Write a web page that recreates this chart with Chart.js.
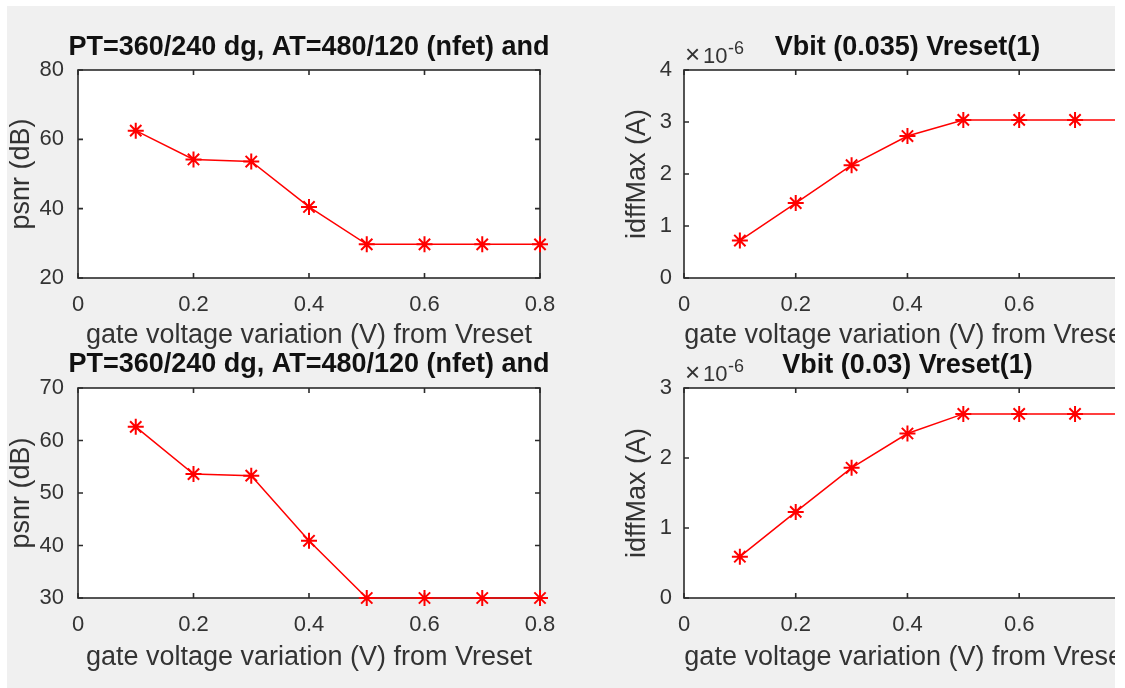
<!DOCTYPE html>
<html>
<head>
<meta charset="utf-8">
<title>psnr / idffMax vs gate voltage variation</title>
<script src="https://cdn.jsdelivr.net/npm/chart.js@4.4.1/dist/chart.umd.min.js"></script>
<style>
  html, body { margin: 0; padding: 0; background: #fff; }
  #fig { position: absolute; left: 0; top: 0; width: 1115px; height: 688px; overflow: hidden; }
  #bg { position: absolute; left: 7px; top: 6px; width: 1108px; height: 682px; background: #f0f0f0; }
  canvas { position: absolute; left: 0; top: 0; }
</style>
</head>
<body>
<div id="fig">
  <div id="bg"></div>
  <canvas id="tl" width="1160" height="688"></canvas>
  <canvas id="tr" width="1160" height="688"></canvas>
  <canvas id="bl" width="1160" height="688"></canvas>
  <canvas id="br" width="1160" height="688"></canvas>
</div>
<script>
// data
const voltage = [0.1, 0.2, 0.3, 0.4, 0.5, 0.6, 0.7, 0.8];
const psnrTop = [62.5, 54.2, 53.6, 40.5, 29.7, 29.7, 29.7, 29.7];
const psnrBottom = [62.6, 53.6, 53.3, 40.9, 30.0, 30.0, 30.0, 30.0];
const idffTop = [0.72e-6, 1.44e-6, 2.17e-6, 2.73e-6, 3.04e-6, 3.04e-6, 3.04e-6, 3.04e-6];
const idffBottom = [0.59e-6, 1.23e-6, 1.86e-6, 2.35e-6, 2.63e-6, 2.63e-6, 2.63e-6, 2.63e-6];

const xTicks = [0, 0.2, 0.4, 0.6, 0.8];
const psnrTopTicks = [20, 40, 60, 80];
const psnrBottomTicks = [30, 40, 50, 60, 70];
const idffTopTicks = [0, 1e-6, 2e-6, 3e-6, 4e-6];
const idffBottomTicks = [0, 1e-6, 2e-6, 3e-6];

const psnrTitle = 'PT=360/240 dg, AT=480/120 (nfet) and';
const xLabel = 'gate voltage variation (V) from Vreset';

const FONT = "'Liberation Sans', Arial, Helvetica, sans-serif";
const INK = '#333333';
const W = 1160, H = 688;
const Y_AXIS_W = 78;
const TICK_SIZE = 22, LABEL_SIZE = 27, TITLE_SIZE = 27;

// matlab look: white axes, full box, inward ticks, bold title, x10^n note
const matlabAxes = {
  id: 'matlabAxes',
  beforeDraw(chart) {
    const { ctx, chartArea: a } = chart;
    ctx.save();
    ctx.fillStyle = '#fff';
    ctx.fillRect(a.left, a.top, a.right - a.left, a.bottom - a.top);
    ctx.restore();
  },
  beforeDatasetsDraw(chart) {
    const { ctx, chartArea: a, scales: { x, y } } = chart;
    ctx.save();
    ctx.strokeStyle = '#2b2b2b';
    ctx.lineWidth = 1.6;
    ctx.beginPath();
    x.ticks.forEach(t => {
      const px = x.getPixelForValue(t.value);
      ctx.moveTo(px, a.bottom); ctx.lineTo(px, a.bottom - 5);
      ctx.moveTo(px, a.top); ctx.lineTo(px, a.top + 5);
    });
    y.ticks.forEach(t => {
      const py = y.getPixelForValue(t.value);
      ctx.moveTo(a.left, py); ctx.lineTo(a.left + 5, py);
      ctx.moveTo(a.right, py); ctx.lineTo(a.right - 5, py);
    });
    ctx.stroke();
    ctx.strokeRect(a.left, a.top, a.right - a.left, a.bottom - a.top);
    ctx.restore();
  },
  afterDraw(chart, args, opts) {
    const { ctx, chartArea: a } = chart;
    ctx.save();
    ctx.fillStyle = '#111';
    ctx.font = `bold ${TITLE_SIZE}px ${FONT}`;
    ctx.textAlign = 'center';
    ctx.textBaseline = 'middle';
    ctx.fillText(opts.title, (a.left + a.right) / 2, opts.titleY);
    if (opts.exponent) {
      ctx.fillStyle = INK;
      ctx.textAlign = 'left';
      ctx.textBaseline = 'alphabetic';
      ctx.font = `26px ${FONT}`;
      ctx.fillText('\u00d7', a.left + 1, a.top - 7);
      ctx.font = `${TICK_SIZE}px ${FONT}`;
      ctx.fillText('10', a.left + 19, a.top - 7);
      ctx.font = `18px ${FONT}`;
      ctx.fillText(opts.exponent, a.left + 44, a.top - 16);
    }
    ctx.restore();
  }
};

function makePanel(p) {
  const half = LABEL_SIZE * 1.2 / 2;
  const xAxisH = p.xLabelY - p.box.b + half;
  const padLeft = p.box.l - Y_AXIS_W;
  const yTicks = p.yTicks;

  return new Chart(document.getElementById(p.id), {
    type: 'line',
    data: {
      datasets: [{
        data: voltage.map((v, i) => ({ x: v, y: p.values[i] })),
        borderColor: '#ff0000',
        backgroundColor: '#ff0000',
        borderWidth: 1.5,
        pointStyle: 'star',
        pointRadius: 8,
        pointBorderWidth: 2,
        pointBorderColor: '#ff0000',
        tension: 0,
        clip: false
      }]
    },
    options: {
      responsive: false,
      animation: false,
      events: [],
      layout: {
        padding: { left: padLeft, right: W - p.box.r, top: p.box.t, bottom: H - p.box.b - xAxisH }
      },
      plugins: {
        legend: { display: false },
        tooltip: { enabled: false },
        matlabAxes: { title: p.title, titleY: p.titleY, exponent: p.exponent }
      },
      scales: {
        x: {
          type: 'linear',
          min: xTicks[0],
          max: xTicks[xTicks.length - 1],
          grid: { display: false, drawTicks: false },
          border: { display: false },
          afterBuildTicks: s => { s.ticks = xTicks.map(v => ({ value: v })); },
          afterFit: s => { s.height = xAxisH; },
          ticks: {
            padding: 13.8, color: INK, maxRotation: 0, autoSkip: false,
            font: { family: FONT, size: TICK_SIZE },
            callback: v => String(v)
          },
          title: {
            display: true, text: xLabel, color: INK,
            font: { family: FONT, size: LABEL_SIZE }, padding: 0
          }
        },
        y: {
          type: 'linear',
          min: yTicks[0],
          max: yTicks[yTicks.length - 1],
          grid: { display: false, drawTicks: false },
          border: { display: false },
          afterBuildTicks: s => { s.ticks = yTicks.map(v => ({ value: v })); },
          afterFit: s => { s.width = Y_AXIS_W; },
          ticks: {
            padding: p.yPad, color: INK, autoSkip: false,
            font: { family: FONT, size: TICK_SIZE },
            callback: v => p.exponent ? String(Math.round(v * 1e6)) : String(v)
          },
          title: {
            display: true, text: p.yLabel, color: INK,
            font: { family: FONT, size: LABEL_SIZE },
            padding: { top: p.yLabelX - padLeft - half, bottom: 0 }
          }
        }
      }
    },
    plugins: [matlabAxes]
  });
}

makePanel({ id: 'tl', title: psnrTitle, yLabel: 'psnr (dB)', values: psnrTop, yTicks: psnrTopTicks,
  box: { l: 78, t: 70, r: 540, b: 278 }, titleY: 48, xLabelY: 336, yLabelX: 22, yPad: 14 });
makePanel({ id: 'bl', title: psnrTitle, yLabel: 'psnr (dB)', values: psnrBottom, yTicks: psnrBottomTicks,
  box: { l: 78, t: 388, r: 540, b: 598 }, titleY: 365, xLabelY: 658, yLabelX: 22, yPad: 14 });
makePanel({ id: 'tr', title: 'Vbit (0.035) Vreset(1)', yLabel: 'idffMax (A)', values: idffTop, yTicks: idffTopTicks,
  box: { l: 684, t: 70, r: 1146, b: 278 }, titleY: 48, xLabelY: 336, yLabelX: 638, yPad: 12, exponent: '-6' });
makePanel({ id: 'br', title: 'Vbit (0.03) Vreset(1)', yLabel: 'idffMax (A)', values: idffBottom, yTicks: idffBottomTicks,
  box: { l: 684, t: 388, r: 1146, b: 598 }, titleY: 366, xLabelY: 658, yLabelX: 638, yPad: 12, exponent: '-6' });
</script>
</body>
</html>
